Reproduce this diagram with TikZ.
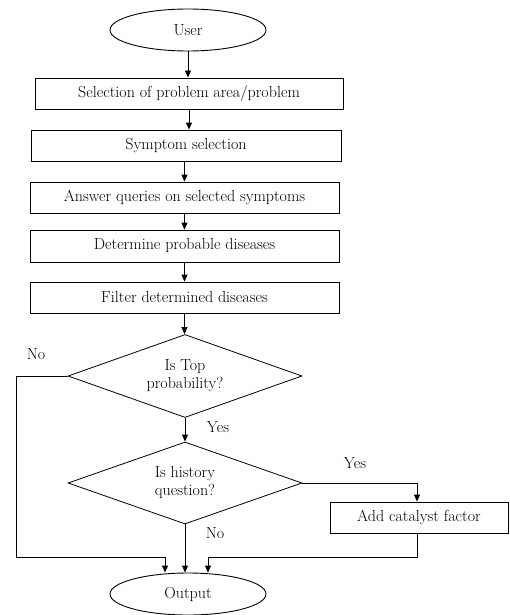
\documentclass[tikz,border=0pt]{standalone}
\usetikzlibrary{shapes.geometric,arrows.meta}
\begin{document}
\begin{tikzpicture}[x=1pt,y=-1pt,
    every node/.style={font=\fontsize{16}{18}\selectfont},
    term/.style={draw,ellipse,line width=0.9pt,minimum width=156pt,minimum height=42pt},
    proc/.style={draw,rectangle,line width=0.9pt,minimum height=31pt},
    test/.style={draw,diamond,aspect=2.8,line width=0.8pt,align=center,inner sep=0pt,
      minimum width=234pt,minimum height=83pt},
    flow/.style={line width=0.9pt,-{Triangle[length=7pt,width=6pt]}},
    link/.style={line width=0.9pt}]
  \useasboundingbox (0,0) rectangle (509,615);
  % main column
  \node[term] (user) at (188,30) {User};
  \node[proc,minimum width=308pt] (sel) at (189,93.5) {Selection of problem area/problem};
  \node[proc,minimum width=310pt] (sym) at (186,145.5) {Symptom selection};
  \node[proc,minimum width=309pt] (ans) at (184.5,197.5) {Answer queries on selected symptoms};
  \node[proc,minimum width=309pt,minimum height=32pt] (det) at (184.5,246) {Determine probable diseases};
  \node[proc,minimum width=309pt] (fil) at (184.5,297.5) {Filter determined diseases};
  \node[test] (top) at (185,376) {Is Top\\probability?};
  \node[test,minimum height=82pt] (hist) at (185,483) {Is history\\question?};
  \node[proc,minimum width=178pt] (cat) at (419,517.5) {Add catalyst factor};
  \node[term] (out) at (188,594) {Output};
  % labels
  \node (no1) at (36,354) {No};
  \node (yes1) at (218,427) {Yes};
  \node (yes2) at (355,463) {Yes};
  \node (no2) at (215,533) {No};
  % bends
  \coordinate (inl) at (165,557);
  \coordinate (inr) at (208,557);
  \coordinate (lft) at (16,557);
  \coordinate (rgt) at (417,483);
  \begin{scope}
    \draw[flow] (user.south) -- (user.south |- sel.north);
    \draw[flow] (sel.south) -- (sel.south |- sym.north);
    \draw[flow] (ans.north |- sym.south) -- (ans.north);
    \draw[flow] (ans.south) -- (det.north);
    \draw[flow] (det.south) -- (fil.north);
    \draw[flow] (fil.south) -- (fil.south |- top.north);
    \draw[flow] (top.south) -- (hist.north);
    \draw[link] (top.west) -| (lft) -- (inl);
    \draw[flow] (inl) -- (inl |- out.north);
    \draw[flow] (hist.south) -- (hist.south |- out.north);
    \draw[flow] (hist.east) -- (rgt) -- (rgt |- cat.north);
    \draw[link] (rgt |- cat.south) |- (inr);
    \draw[flow] (inr) -- (inr |- out.north);
  \end{scope}
\end{tikzpicture}
\end{document}
